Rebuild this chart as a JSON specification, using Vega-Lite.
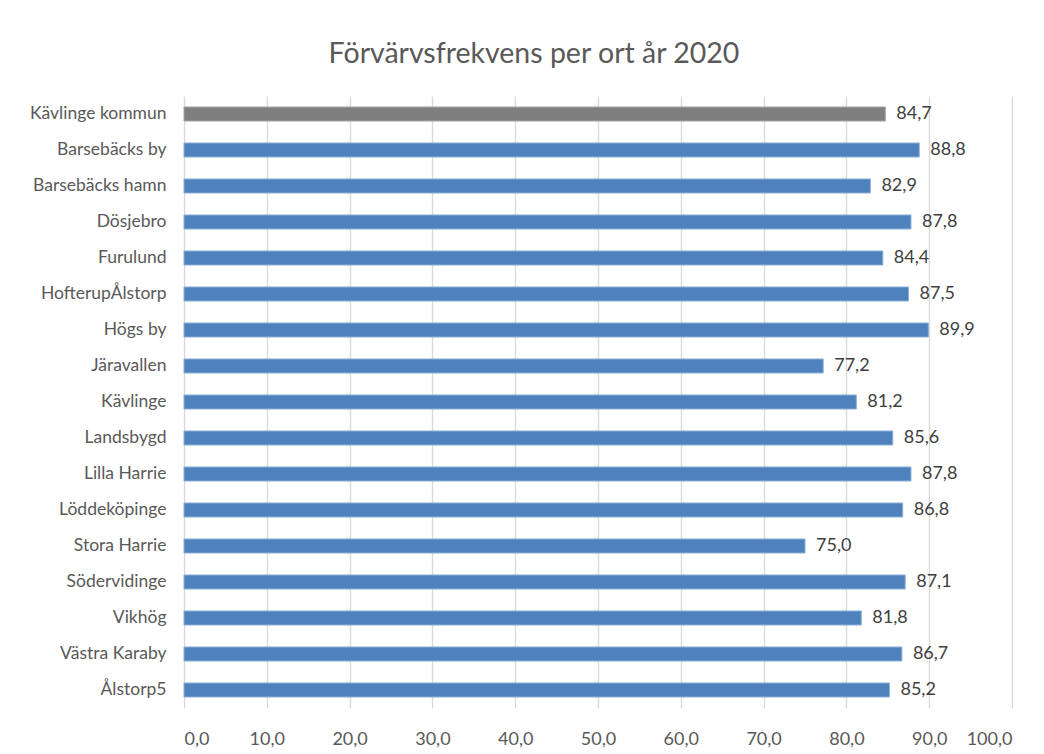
{
  "$schema": "https://vega.github.io/schema/vega-lite/v6.json",
  "width": 828,
  "height": 612,
  "autosize": {"type": "none"},
  "padding": {"left": 184, "top": 96, "right": 32, "bottom": 46},
  "background": "white",
  "title": {
    "text": "Förvärvsfrekvens per ort år 2020",
    "font": "Lato",
    "fontSize": 28.5,
    "fontWeight": "normal",
    "color": "#595959",
    "anchor": "middle",
    "dx": -64,
    "offset": 28
  },
  "data": {
    "values": [
      {"ort": "Kävlinge kommun", "varde": 84.7, "typ": "kommun"},
      {"ort": "Barsebäcks by", "varde": 88.8, "typ": "ort"},
      {"ort": "Barsebäcks hamn", "varde": 82.9, "typ": "ort"},
      {"ort": "Dösjebro", "varde": 87.8, "typ": "ort"},
      {"ort": "Furulund", "varde": 84.4, "typ": "ort"},
      {"ort": "HofterupÅlstorp", "varde": 87.5, "typ": "ort"},
      {"ort": "Högs by", "varde": 89.9, "typ": "ort"},
      {"ort": "Järavallen", "varde": 77.2, "typ": "ort"},
      {"ort": "Kävlinge", "varde": 81.2, "typ": "ort"},
      {"ort": "Landsbygd", "varde": 85.6, "typ": "ort"},
      {"ort": "Lilla Harrie", "varde": 87.8, "typ": "ort"},
      {"ort": "Löddeköpinge", "varde": 86.8, "typ": "ort"},
      {"ort": "Stora Harrie", "varde": 75.0, "typ": "ort"},
      {"ort": "Södervidinge", "varde": 87.1, "typ": "ort"},
      {"ort": "Vikhög", "varde": 81.8, "typ": "ort"},
      {"ort": "Västra Karaby", "varde": 86.7, "typ": "ort"},
      {"ort": "Ålstorp5", "varde": 85.2, "typ": "ort"}
    ]
  },
  "encoding": {
    "y": {
      "field": "ort",
      "type": "nominal",
      "sort": null,
      "title": null,
      "scale": {"paddingInner": 0.61, "paddingOuter": 0.305},
      "axis": {
        "domain": false,
        "ticks": false,
        "grid": false,
        "labelFont": "Lato",
        "labelFontSize": 17.5,
        "labelColor": "#595959",
        "labelPadding": 18
      }
    },
    "x": {
      "field": "varde",
      "type": "quantitative",
      "title": null,
      "scale": {"domain": [0, 100], "nice": false},
      "axis": {
        "values": [0, 10, 20, 30, 40, 50, 60, 70, 80, 90, 100],
        "format": ".1f",
        "domain": false,
        "ticks": false,
        "grid": true,
        "gridColor": "#d9d9d9",
        "gridWidth": 1.3,
        "labelFont": "Lato",
        "labelFontSize": 18,
        "labelColor": "#595959",
        "labelPadding": 22
      }
    }
  },
  "layer": [
    {
      "mark": {"type": "bar", "strokeWidth": 1},
      "encoding": {
        "color": {
          "field": "typ",
          "type": "nominal",
          "scale": {"domain": ["kommun", "ort"], "range": ["#7f7f7f", "#4f81bd"]},
          "legend": null
        },
        "stroke": {
          "field": "typ",
          "type": "nominal",
          "scale": {"domain": ["kommun", "ort"], "range": ["#a6a6a6", "#8fb0d9"]},
          "legend": null
        }
      }
    },
    {
      "mark": {"type": "text", "align": "left", "baseline": "middle", "dx": 11, "font": "Lato", "fontSize": 18, "color": "#404040"},
      "encoding": {
        "text": {"field": "varde", "type": "quantitative", "format": ".1f"}
      }
    }
  ],
  "config": {
    "view": {"stroke": null},
    "locale": {
      "number": {
        "decimal": ",",
        "thousands": " ",
        "grouping": [3],
        "currency": ["", " kr"]
      }
    }
  }
}
